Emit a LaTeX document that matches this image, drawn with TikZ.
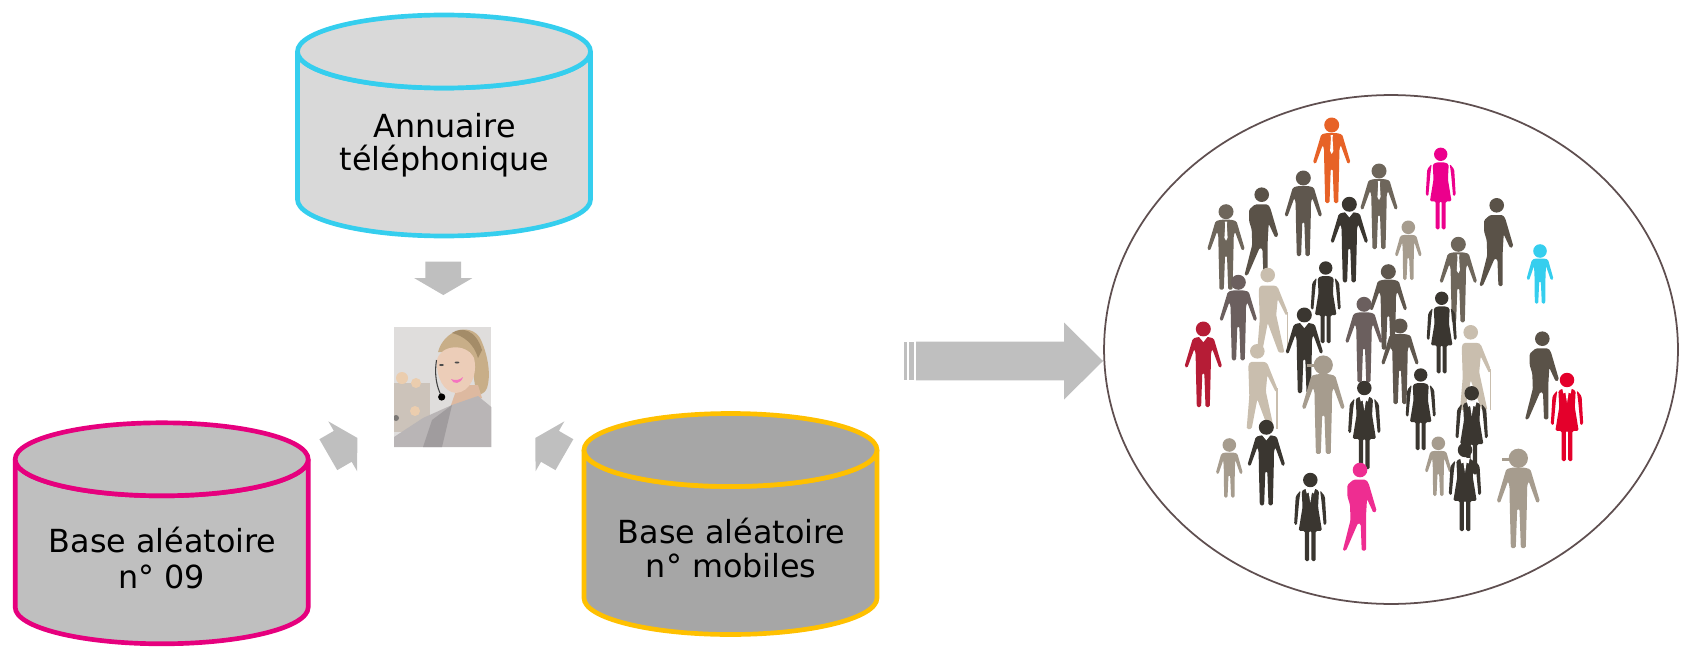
\documentclass[tikz,border=0pt]{standalone}
\usepackage{fontspec}
\setmainfont{DejaVu Sans}
\usetikzlibrary{shapes.geometric,shapes.arrows}

\definecolor{cylBlue}{HTML}{35CEEE}
\definecolor{cylPink}{HTML}{E6007E}
\definecolor{cylGold}{HTML}{FFC000}
\definecolor{arrowGrey}{HTML}{BFBFBF}
\definecolor{cylLight}{HTML}{D9D9D9}
\definecolor{cylDark}{HTML}{A6A6A6}
\definecolor{ringCol}{HTML}{5F4F50}
\definecolor{dark}{HTML}{3A3630}
\definecolor{walk}{HTML}{5A5248}
\definecolor{tiegrey}{HTML}{6E665B}
\definecolor{plain}{HTML}{5F574E}
\definecolor{mauve}{HTML}{6B5F5E}
\definecolor{beige}{HTML}{C9BEAE}
\definecolor{taupe}{HTML}{A69C8E}
\definecolor{hairCol}{HTML}{C8AE88}
\definecolor{hairTop}{HTML}{A48C68}
\definecolor{skinCol}{HTML}{ECCDB8}
\definecolor{neckCol}{HTML}{DDB9A0}
\definecolor{shirtCol}{HTML}{B9B5B6}
\definecolor{shirtDark}{HTML}{A09C9E}
\definecolor{photoBack}{HTML}{DFDDDC}
\definecolor{bokehCol}{HTML}{C8BDB2}
\definecolor{glowCol}{HTML}{EBCDAE}

\newcommand{\manshape}{
	\fill[pic actions] (0,0) circle(7.5);
	\fill[pic actions, rounded corners=.8pt] (-5,8) -- (5,8) -- (10.5,9.5) -- (18.8,37.5) -- (16,39) -- (9,20)
		-- (7.7,24) -- (7.4,42) -- (6.5,78) -- (2.2,78) -- (1,44) -- (-1,44) -- (-2.2,78) -- (-6.5,78)
		-- (-7.4,42) -- (-7.7,24) -- (-9,20) -- (-16,39) -- (-18.8,37.5) -- (-10.5,9.5) -- cycle;
}
\newcommand{\womanshape}{
	\fill[pic actions] (0,0) circle(6.7);
	\fill[pic actions, rounded corners=.8pt] (-4,8) -- (4,8) -- (8,10) -- (7.2,25) -- (10.8,47) -- (5,47) -- (5,75) -- (1,75)
		-- (1,47) -- (-1,47) -- (-1,75) -- (-5,75) -- (-5,47) -- (-10.8,47) -- (-7.2,25) -- (-8,10) -- cycle;
	\fill[pic actions, rounded corners=.8pt] (9,9.5) -- (13.5,15) -- (15,41) -- (12.4,42) -- (10.4,20) -- cycle;
	\fill[pic actions, rounded corners=.8pt] (-9,9.5) -- (-13.5,15) -- (-15,41) -- (-12.4,42) -- (-10.4,20) -- cycle;
}

\tikzset{
	dbcan/.pic={
		\path[pic actions, line width=2.66pt] (-146.5,-74) -- (-146.5,74) arc[start angle=180, end angle=0, x radius=146.5, y radius=36.5]
			-- (146.5,-74) arc[start angle=0, end angle=180, x radius=146.5, y radius=36.5] -- cycle;
		\path[pic actions, line width=2.66pt] (0,-74) ellipse (146.5 and 36.5);
	},
	dbtext/.style={align=center, font=\fontsize{18.1}{19}\selectfont, inner sep=0pt},
	blockarrow/.style={single arrow, fill=arrowGrey, inner xsep=0pt, inner ysep=.35cm, outer sep=0pt, minimum height=.67cm,
		single arrow head extend=.22cm, single arrow tip angle=119.5},
	man/.pic={\manshape},
	mantie/.pic={
		\manshape
		\fill[white] (-1.2,10) -- (1.2,10) -- (.8,13) -- (1.6,26) -- (0,29) -- (-1.6,26) -- (-.8,13) -- cycle;
	},
	mansuit/.pic={
		\manshape
		\fill[white] (-4.5,7.5) -- (0,13) -- (4.5,7.5) -- cycle;
	},
	mancap/.pic={
		\manshape
		\fill[pic actions] (0,0) circle(8.4);
		\fill[pic actions] (-14,-.5) -- (-5,-.5) -- (-5,2) -- (-14,2) -- cycle;
	},
	woman/.pic={\womanshape},
	womansuit/.pic={
		\womanshape
		\fill[white] (-4.5,7.5) -- (-3.3,12.5) -- (-1.5,11.5) -- (0,21) -- (1.5,11.5) -- (3.3,12.5) -- (4.5,7.5) -- cycle;
	},
	walker/.pic={
		\fill[pic actions] (0,0) circle(7.3);
		\fill[pic actions, rounded corners=.8pt] (-6.7,9.7) -- (6,9.7) -- (8.5,13) -- (16.7,41) -- (13.5,43) -- (7,29)
			-- (6,46) -- (6,80.7) -- (1.7,80.7) -- (.7,54) -- (-2,53) -- (-14,80.7) -- (-17.3,80.7)
			-- (-9.5,50) -- (-10,35) -- (-12.7,26) -- (-12.7,15) -- cycle;
	},
	elder/.pic={
		\fill[pic actions] (0,0) circle(7.3);
		\fill[pic actions, rounded corners=.8pt] (-7,10.5) -- (7,10.5) -- (10,12) -- (20,37) -- (18.5,41) -- (10,24)
			-- (8.5,40) -- (16.7,77.7) -- (11,77.7) -- (0,48) -- (-5.7,77.7) -- (-10.7,77.7) -- (-8,45) -- (-9,14) -- cycle;
		\fill[pic actions] (18.9,37) -- (20.2,37) -- (20.2,77.7) -- (18.9,77.7) -- cycle;
	},
	kid/.pic={
		\fill[pic actions] (0,0) circle(6.8);
		\fill[pic actions, rounded corners=.8pt] (-4,7.5) -- (4,7.5) -- (8,8.5) -- (13.5,28) -- (11,29.5) -- (6,15) -- (5.5,25)
			-- (5.2,52.7) -- (1.8,52.7) -- (.8,30) -- (-.8,30) -- (-1.8,52.7) -- (-5.2,52.7) -- (-5.5,25) -- (-6,15)
			-- (-11,29.5) -- (-13.5,28) -- (-8,8.5) -- cycle;
	},
}

\begin{document}
\begin{tikzpicture}[x=0.02cm,y=-0.02cm]
	\useasboundingbox (0,0) rectangle (1686,652);

	% databases
	\pic[draw=cylBlue, fill=cylLight] at (444,125.5) {dbcan};
	\pic[draw=cylPink, fill=arrowGrey] at (161.7,533.3) {dbcan};
	\pic[draw=cylGold, fill=cylDark] at (730.5,524) {dbcan};
	\node [dbtext, anchor=base] (annuaireA) at (444.5,137) {Annuaire};
	\node [dbtext, anchor=base] (annuaireB) at (444.5,170.7) {téléphonique};
	\node [dbtext, anchor=base] (baseNeufA) at (162.7,552.7) {Base aléatoire};
	\node [dbtext, anchor=base] (baseNeufB) at (161.7,588) {n° 09};
	\node [dbtext, anchor=base] (baseMobA) at (731.7,543.3) {Base aléatoire};
	\node [dbtext, anchor=base] (baseMobB) at (731.2,577.3) {n° mobiles};

	% arrows
	\node [blockarrow, rotate=-90] (arrTop) at (443.3,273.1) {};
	\node [blockarrow, rotate=30] (arrLeft) at (338.3,448.9) {};
	\node [blockarrow, rotate=150] (arrRight) at (554.4,448.9) {};
	\fill[arrowGrey] (904,341.7) rectangle (906.7,380.3);
	\fill[arrowGrey] (909,341.7) rectangle (913.7,380.3);
	\fill[arrowGrey] (916,341.7) -- (1064,341.7) -- (1064,322.5) -- (1103,361) -- (1064,399.5) -- (1064,380.3) -- (916,380.3) -- cycle;

	% photo
	\begin{scope}
		\clip (394,327) rectangle (491.3,447);
		\fill[photoBack] (394,327) rectangle (491.3,447);
		\fill[bokehCol, opacity=.8] (394,383) rectangle (430,432);
		\fill[glowCol] (416,383) circle(5);
		\fill[glowCol] (415,411) circle(5);
		\fill[glowCol] (402,378) circle(6);
		\fill[black!65, opacity=.7] (396,418) circle(3);
		% ponytail and hair
		\fill[hairCol] (438,352) .. controls (444,330) and (470,322) .. (480,338) .. controls (486,350) and (492,372) .. (487,388) .. controls (484,395) and (478,396) .. (476,392) -- (470,352) -- cycle;
		\fill[hairTop] (452,333) .. controls (462,326) and (476,330) .. (482,350) -- (478,358) .. controls (474,344) and (464,336) .. (452,333) -- cycle;
		% neck and face
		\fill[neckCol] (458,385) -- (478,385) -- (482,398) -- (450,408) -- cycle;
		\fill[skinCol] (437,360) .. controls (440,345) and (466,342) .. (474,358) .. controls (478,375) and (470,392) .. (456,393) .. controls (444,392) and (436,378) .. (437,360) -- cycle;
		% shirt
		\fill[shirtCol] (394,447) -- (394,437) -- (423,418) -- (452,405) -- (478,396) -- (491.3,407) -- (491.3,447) -- cycle;
		\fill[shirtDark] (423,447) -- (432,420) -- (452,405) -- (442,447) -- cycle;
		% eyes, mouth, headset
		\fill[black!70] (441.5,365) ellipse (2.4 and 1);
		\fill[black!70] (457,362.5) ellipse (2.4 and 1);
		\fill[magenta!55!white] (451,379) .. controls (455,381) and (460,380) .. (463,377) .. controls (461,384) and (453,385) .. (451,379) -- cycle;
		\draw[black!75, line width=.6pt] (436.5,360) .. controls (434,375) and (437,388) .. (441.5,396);
		\fill[black] (441.7,397) circle(3.6);
	\end{scope}

	% crowd
	\node [ellipse, draw=ringCol, line width=1pt, inner sep=0pt, outer sep=0pt, minimum width=11.48cm, minimum height=10.18cm] (crowd) at (1391,349.5) {};
	\pic[fill={rgb,255:red,231;green,98;blue,39}] at (1331.7,125) {mantie};
	\pic[fill={rgb,255:red,236;green,0;blue,140}] at (1440.7,154.3) {woman};
	\pic[fill=tiegrey] at (1379,171) {mantie};
	\pic[fill=plain] at (1303.3,178) {man};
	\pic[fill=walk] at (1261.7,194.7) {walker};
	\pic[fill=tiegrey] at (1226,211.7) {mantie};
	\pic[fill=dark] at (1349.3,204.3) {mansuit};
	\pic[fill=taupe] at (1408.3,227.3) {kid};
	\pic[fill=tiegrey] at (1458.3,244.3) {mantie};
	\pic[fill=walk] at (1496.7,205.3) {walker};
	\pic[fill=cylBlue] at (1540,251) {kid};
	\pic[fill=plain] at (1388.3,271.7) {man};
	\pic[fill=dark] at (1325.7,268) {woman};
	\pic[fill=beige] at (1267.7,275) {elder};
	\pic[fill=mauve] at (1238.3,282.3) {man};
	\pic[fill=dark] at (1441.7,298.3) {woman};
	\pic[fill=mauve] at (1364,304.3) {man};
	\pic[fill=dark] at (1304.3,315) {mansuit};
	\pic[fill=plain] at (1400,326) {man};
	\pic[fill={rgb,255:red,182;green,28;blue,54}] at (1203.3,329) {mansuit};
	\pic[fill=beige] at (1257.3,351.3) {elder};
	\pic[fill=beige] at (1470.7,332.3) {elder};
	\pic[scale=1.14,fill=taupe] at (1323.3,365) {mancap};
	\pic[fill=dark] at (1420.7,375) {woman};
	\pic[scale=1.08,fill=dark] at (1364.3,388) {womansuit};
	\pic[scale=1.08,fill=dark] at (1471.7,393.3) {womansuit};
	\pic[fill=walk] at (1542.3,338.7) {walker};
	\pic[scale=1.08,fill={rgb,255:red,228;green,0;blue,43}] at (1567,380) {womansuit};
	\pic[fill=taupe] at (1229.3,445) {kid};
	\pic[fill=dark] at (1266.3,427.3) {mansuit};
	\pic[fill={rgb,255:red,238;green,45;blue,145}] at (1360,470) {walker};
	\pic[scale=1.08,fill=dark] at (1310.3,480) {womansuit};
	\pic[fill=taupe] at (1438.3,443.3) {kid};
	\pic[scale=1.08,fill=dark] at (1465,450) {womansuit};
	\pic[scale=1.15,fill=taupe] at (1518.3,458.3) {mancap};
\end{tikzpicture}
\end{document}
